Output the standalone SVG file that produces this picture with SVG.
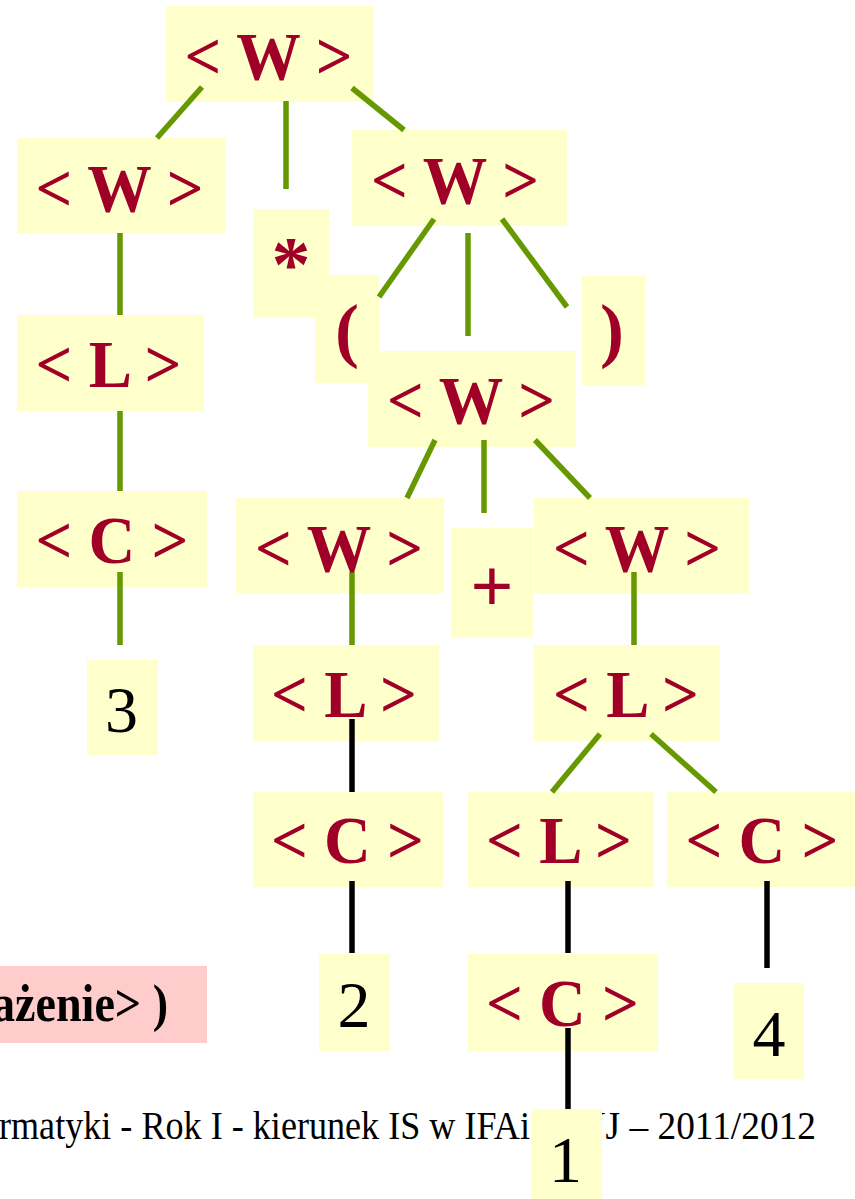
<svg xmlns="http://www.w3.org/2000/svg" width="855" height="1199" viewBox="0 0 855 1199">
<style>
.bx{fill:#FFFFCC}
.pk{fill:#FFCCCC}
.lb{font-family:"Liberation Serif","Times New Roman",serif;font-weight:bold;font-size:68px;fill:#A00028;text-anchor:middle}
.dg{font-family:"Liberation Serif","Times New Roman",serif;font-size:66px;fill:#000;text-anchor:middle}
.g{stroke:#669900;stroke-width:5.5;fill:none}
.k{stroke:#000;stroke-width:5.5;fill:none}
.ft{font-family:"Liberation Serif","Times New Roman",serif;font-size:39px;fill:#000}
.pt{font-family:"Liberation Serif","Times New Roman",serif;font-weight:bold;font-size:52px;fill:#000}
</style>
<rect width="855" height="1199" fill="#fff"/>
<g id="footer">
<text class="ft" x="-1" y="1139" textLength="531" lengthAdjust="spacingAndGlyphs">rmatyki - Rok I - kierunek IS w IFAi</text>
<text class="ft" x="816" y="1139" text-anchor="end" textLength="280" lengthAdjust="spacingAndGlyphs">IS UJ – 2011/2012</text>
</g>
<g id="note">
<rect class="pk" x="-2" y="966" width="209" height="77"/>
<text class="pt" x="-8" y="1021" textLength="176" lengthAdjust="spacingAndGlyphs">ażenie&gt; )</text>
</g>
<g id="nodes-bg">
<rect id="r-A" class="bx" x="166" y="6" width="208" height="96"/>
<rect id="r-B" class="bx" x="17" y="138" width="208" height="95"/>
<rect id="r-star" class="bx" x="253" y="209" width="76" height="108"/>
<rect id="r-lp" class="bx" x="315" y="275" width="64" height="108"/>
<rect id="r-C1" class="bx" x="352" y="130" width="215" height="96"/>
<rect id="r-rp" class="bx" x="582" y="276" width="63" height="109"/>
<rect id="r-D" class="bx" x="368" y="351" width="208" height="96"/>
<rect id="r-L1" class="bx" x="17" y="315" width="187" height="96"/>
<rect id="r-CL" class="bx" x="17" y="491" width="190" height="96"/>
<rect id="r-3" class="bx" x="87" y="660" width="71" height="95"/>
<rect id="r-E" class="bx" x="236" y="498" width="208" height="95"/>
<rect id="r-plus" class="bx" x="451" y="528" width="82" height="109"/>
<rect id="r-F" class="bx" x="534" y="498" width="215" height="95"/>
<rect id="r-L2" class="bx" x="253" y="645" width="186" height="96"/>
<rect id="r-L3" class="bx" x="534" y="645" width="186" height="96"/>
<rect id="r-C2" class="bx" x="253" y="792" width="190" height="95"/>
<rect id="r-L4" class="bx" x="468" y="792" width="186" height="95"/>
<rect id="r-C4" class="bx" x="667" y="792" width="190" height="95"/>
<rect id="r-2" class="bx" x="319" y="954" width="71" height="97"/>
<rect id="r-C5" class="bx" x="468" y="954" width="190" height="97"/>
<rect id="r-4" class="bx" x="734" y="983" width="70" height="96"/>
<rect id="r-1" class="bx" x="531" y="1109" width="71" height="92"/>
</g>
<g id="connectors">
<line class="g" x1="202" y1="87" x2="157" y2="138"/>
<line class="g" x1="286" y1="101" x2="286" y2="189"/>
<line class="g" x1="352" y1="88" x2="404" y2="130"/>
<line class="g" x1="120" y1="233" x2="120" y2="315"/>
<line class="g" x1="434" y1="219" x2="379" y2="297"/>
<line class="g" x1="468" y1="233" x2="468" y2="336"/>
<line class="g" x1="502" y1="219" x2="567" y2="307"/>
<line class="g" x1="120" y1="411" x2="120" y2="491"/>
<line class="g" x1="120" y1="572" x2="120" y2="645"/>
<line class="g" x1="435" y1="440" x2="407" y2="498"/>
<line class="g" x1="484" y1="440" x2="484" y2="513"/>
<line class="g" x1="535" y1="440" x2="590" y2="498"/>
<line class="g" x1="352" y1="572" x2="352" y2="645"/>
<line class="g" x1="634" y1="572" x2="634" y2="645"/>
<line class="g" x1="600" y1="734" x2="552" y2="792"/>
<line class="g" x1="651" y1="734" x2="716" y2="792"/>
<line class="k" x1="352" y1="719" x2="352" y2="792"/>
<line class="k" x1="352" y1="881" x2="352" y2="953"/>
<line class="k" x1="568" y1="881" x2="568" y2="953"/>
<line class="k" x1="767" y1="881" x2="767" y2="968"/>
<line class="k" x1="568" y1="1028" x2="568" y2="1109"/>
</g>
<g id="n-A"><text class="lb" x="268.5" y="79" textLength="168" lengthAdjust="spacingAndGlyphs">&lt; W &gt;</text></g>
<g id="n-B"><text class="lb" x="119.5" y="211" textLength="168" lengthAdjust="spacingAndGlyphs">&lt; W &gt;</text></g>
<g id="n-star"><text class="lb" x="291" y="290" style="font-size:78px">*</text></g>
<g id="n-lp"><text class="lb" x="347" y="354" style="font-size:72px">(</text></g>
<g id="n-C1"><text class="lb" x="455" y="203" textLength="168" lengthAdjust="spacingAndGlyphs">&lt; W &gt;</text></g>
<g id="n-rp"><text class="lb" x="612" y="354" style="font-size:72px">)</text></g>
<g id="n-D"><text class="lb" x="471" y="423" textLength="168" lengthAdjust="spacingAndGlyphs">&lt; W &gt;</text></g>
<g id="n-L1"><text class="lb" x="108.5" y="387" textLength="146" lengthAdjust="spacingAndGlyphs">&lt; L &gt;</text></g>
<g id="n-CL"><text class="lb" x="112" y="563" textLength="153" lengthAdjust="spacingAndGlyphs">&lt; C &gt;</text></g>
<g id="n-3"><text class="dg" x="121.5" y="732">3</text></g>
<g id="n-E"><text class="lb" x="339" y="571" textLength="168" lengthAdjust="spacingAndGlyphs">&lt; W &gt;</text></g>
<g id="n-plus"><text class="lb" x="492" y="612" style="font-size:76px">+</text></g>
<g id="n-F"><text class="lb" x="637" y="571" textLength="168" lengthAdjust="spacingAndGlyphs">&lt; W &gt;</text></g>
<g id="n-L2"><text class="lb" x="344" y="717" textLength="146" lengthAdjust="spacingAndGlyphs">&lt; L &gt;</text></g>
<g id="n-L3"><text class="lb" x="626" y="717" textLength="146" lengthAdjust="spacingAndGlyphs">&lt; L &gt;</text></g>
<g id="n-C2"><text class="lb" x="347.5" y="863" textLength="153" lengthAdjust="spacingAndGlyphs">&lt; C &gt;</text></g>
<g id="n-L4"><text class="lb" x="559" y="863" textLength="146" lengthAdjust="spacingAndGlyphs">&lt; L &gt;</text></g>
<g id="n-C4"><text class="lb" x="762" y="863" textLength="153" lengthAdjust="spacingAndGlyphs">&lt; C &gt;</text></g>
<g id="n-2"><text class="dg" x="354" y="1027">2</text></g>
<g id="n-C5"><text class="lb" x="562.5" y="1026" textLength="153" lengthAdjust="spacingAndGlyphs">&lt; C &gt;</text></g>
<g id="n-4"><text class="dg" x="769" y="1056">4</text></g>
<g id="n-1"><text class="dg" x="565.5" y="1182">1</text></g>
</svg>
